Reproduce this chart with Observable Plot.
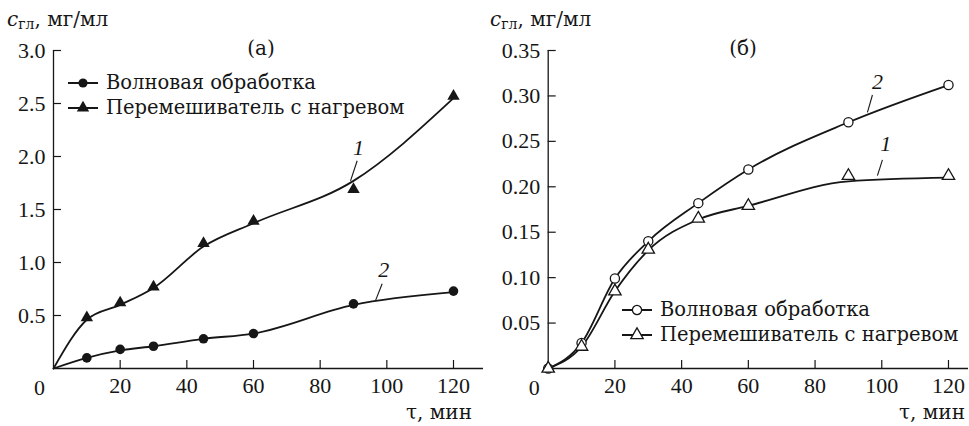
<!DOCTYPE html>
<html><head><meta charset="utf-8">
<script src="https://cdn.jsdelivr.net/npm/d3@7"></script>
<script src="https://cdn.jsdelivr.net/npm/@observablehq/plot@0.6"></script>
<style>
body{margin:0;background:#fff;color:#161616;}
#wrap{position:relative;width:969px;height:426px;overflow:hidden;background:#fff;}
.panel{position:absolute;top:0;}
.lab{position:absolute;line-height:20px;white-space:nowrap;font-size:20px;}
.leg{position:absolute;line-height:24px;white-space:nowrap;display:flex;align-items:center;height:24px;font-size:19.5px;}
.leg svg{display:block;margin-right:5px;}
sub{font-size:14px;vertical-align:-3px;line-height:0;}
</style></head><body>
<div id="wrap"></div>
<script>
// ---- data ----
const seriesNames = ["Волновая обработка", "Перемешиватель с нагревом"];
const panelTitles = ["(а)", "(б)"];
const xAxisLabel = "τ, мин";
const yAxisLabelHTML = "<i>c</i><sub>гл</sub>, мг/мл";
const xTicks = [20, 40, 60, 80, 100, 120];
const originLabel = ["0"];

// panel (а)
const leftTimes = [10, 20, 30, 45, 60, 90, 120];
const leftTriangle = [0.48, 0.62, 0.77, 1.18, 1.39, 1.69, 2.57];
const leftCircle = [0.10, 0.18, 0.21, 0.28, 0.33, 0.61, 0.73];
const leftCurveTimes = [0, 10, 20, 30, 45, 60, 90, 120];
const leftCurve1 = [0, 0.46, 0.60, 0.76, 1.15, 1.37, 1.77, 2.55];
const leftCurve2 = [0, 0.10, 0.17, 0.21, 0.28, 0.33, 0.60, 0.72];
const leftYTicks = [0.5, 1.0, 1.5, 2.0, 2.5, 3.0];
const leftCurveLabels = ["1", "2"];
const leftLabelX = [91.5, 99.1];
const leftLabelY = [2.08, 0.925];
const leftLeaderX1 = [91.1, 98.6], leftLeaderY1 = [1.96, 0.80];
const leftLeaderX2 = [89.1, 96.6], leftLeaderY2 = [1.77, 0.64];

// panel (б)
const rightTimes = [0, 10, 20, 30, 45, 60, 90, 120];
const rightCircle = [0, 0.028, 0.099, 0.140, 0.182, 0.219, 0.271, 0.312];
const rightTriangle = [0, 0.024, 0.085, 0.131, 0.165, 0.179, 0.212, 0.212];
const rightCurve1 = [0, 0.024, 0.085, 0.130, 0.164, 0.179, 0.206, 0.210];
const rightCurve2 = [0, 0.028, 0.099, 0.140, 0.182, 0.219, 0.271, 0.312];
const rightYTicks = [0.05, 0.10, 0.15, 0.20, 0.25, 0.30, 0.35];
const rightCurveLabels = ["2", "1"];
const rightLabelX = [98.7, 101.2];
const rightLabelY = [0.315, 0.247];
const rightLeaderX1 = [97.2, 100.2], rightLeaderY1 = [0.301, 0.2296];
const rightLeaderX2 = [95.7, 98.7], rightLeaderY2 = [0.282, 0.2123];

// ---- helpers ----
const ink = "#161616";
const NUMFONT = "'Liberation Serif', 'Times New Roman', serif";
const TXTFONT = "'DejaVu Serif', 'Liberation Serif', serif";
const setFont = (el, f) => el.style.setProperty("font-family", f, "important");
const pts = (xs, ys) => xs.map((x, i) => ({x, y: ys[i]}));
const labs = (t, xs, ys) => t.map((s, i) => ({text: s, x: xs[i], y: ys[i]}));
const links = (x1, y1, x2, y2) => x1.map((_, i) => ({x1: x1[i], y1: y1[i], x2: x2[i], y2: y2[i]}));

function panel({width, marginLeft, marginRight, xMax, yMax, yTicks, yFmt, curves, markers, labels, leaders}) {
  const svg = Plot.plot({
    width, height: 426,
    marginLeft, marginRight, marginTop: 50, marginBottom: 58,
    x: {domain: [0, xMax]},
    y: {domain: [0, yMax]},
    style: {fontFamily: NUMFONT, fontSize: "22px", color: ink, background: "transparent", overflow: "visible"},
    marks: [
      Plot.ruleX([0], {stroke: ink, strokeWidth: 1.3}),
      Plot.ruleY([0], {stroke: ink, strokeWidth: 1.3}),
      Plot.axisY(yTicks, {tickSize: -8, tickPadding: 16, tickFormat: yFmt, label: null, fontSize: 22, stroke: ink, strokeWidth: 1.2}),
      Plot.axisX(xTicks, {tickSize: -8, tickPadding: 17, label: null, fontSize: 22, stroke: ink, strokeWidth: 1.2}),
      Plot.text(originLabel, {x: 0, y: 0, text: d => d, dx: -14, dy: 19, fontSize: 22, fill: ink}),
      ...curves.map(c => Plot.line(c, {x: "x", y: "y", curve: "monotone-x", stroke: ink, strokeWidth: 1.8})),
      ...markers,
      Plot.link(leaders, {x1: "x1", y1: "y1", x2: "x2", y2: "y2", stroke: ink, strokeWidth: 1.1}),
      Plot.text(labels, {x: "x", y: "y", text: "text", fontSize: 22, fontStyle: "italic", fill: ink})
    ]
  });
  setFont(svg, NUMFONT);
  svg.querySelectorAll("g, text, tspan").forEach(el => setFont(el, NUMFONT));
  return svg;
}

const wrap = document.getElementById("wrap");

const left = panel({
  width: 485, marginLeft: 53, marginRight: 2, xMax: 129, yMax: 3.0,
  yTicks: leftYTicks, yFmt: d3.format(".1f"),
  curves: [pts(leftCurveTimes, leftCurve1), pts(leftCurveTimes, leftCurve2)],
  markers: [
    Plot.dot(pts(leftTimes, leftCircle), {x: "x", y: "y", symbol: "circle", r: 4.8, fill: ink}),
    Plot.dot(pts(leftTimes, leftTriangle), {x: "x", y: "y", symbol: "triangle", r: 4.6, fill: ink})
  ],
  labels: labs(leftCurveLabels, leftLabelX, leftLabelY),
  leaders: links(leftLeaderX1, leftLeaderY1, leftLeaderX2, leftLeaderY2)
});
left.classList.add("panel"); left.style.left = "0px";
wrap.appendChild(left);

const right = panel({
  width: 484, marginLeft: 62.7, marginRight: 1, xMax: 126, yMax: 0.35,
  yTicks: rightYTicks, yFmt: d3.format(".2f"),
  curves: [pts(rightTimes, rightCurve1), pts(rightTimes, rightCurve2)],
  markers: [
    Plot.dot(pts(rightTimes, rightCircle), {x: "x", y: "y", symbol: "circle", r: 4.6, fill: "white", stroke: ink, strokeWidth: 1.3}),
    Plot.dot(pts(rightTimes, rightTriangle), {x: "x", y: "y", symbol: "triangle", r: 4.6, fill: "white", stroke: ink, strokeWidth: 1.3})
  ],
  labels: labs(rightCurveLabels, rightLabelX, rightLabelY),
  leaders: links(rightLeaderX1, rightLeaderY1, rightLeaderX2, rightLeaderY2)
});
right.classList.add("panel"); right.style.left = "485px";
wrap.appendChild(right);

// ---- text overlays ----
function addText(html, css, font) {
  const d = document.createElement("div");
  d.className = "lab";
  d.innerHTML = html;
  Object.assign(d.style, css);
  setFont(d, font);
  d.querySelectorAll("*").forEach(el => setFont(el, font));
  wrap.appendChild(d);
  return d;
}
addText(yAxisLabelHTML, {left: "7px", top: "9px"}, TXTFONT);
addText(yAxisLabelHTML, {left: "490px", top: "9px"}, TXTFONT);
addText(panelTitles[0], {left: "261px", top: "38px", transform: "translateX(-50%)"}, TXTFONT);
addText(panelTitles[1], {left: "743px", top: "38px", transform: "translateX(-50%)"}, TXTFONT);
addText(xAxisLabel, {right: (969 - 472) + "px", top: "402px"}, TXTFONT);
addText(xAxisLabel, {right: (969 - 965) + "px", top: "402px"}, TXTFONT);

function legendRow(x, yc, name, symbol, filled) {
  const d = document.createElement("div");
  d.className = "leg";
  d.style.left = x + "px";
  d.style.top = (yc - 12) + "px";
  const s = d3.create("svg").attr("width", 34).attr("height", 24);
  s.append("line").attr("x1", 1).attr("x2", 31).attr("y1", 12).attr("y2", 12).attr("stroke", ink).attr("stroke-width", 2);
  const sym = d3.symbol(symbol === "circle" ? d3.symbolCircle : d3.symbolTriangle, Math.PI * 4.6 * 4.6)();
  s.append("path").attr("d", sym).attr("transform", "translate(16,12)")
    .attr("fill", filled ? ink : "white").attr("stroke", ink).attr("stroke-width", filled ? 0 : 1.3);
  d.appendChild(s.node());
  const t = document.createElement("span");
  t.textContent = name;
  d.appendChild(t);
  setFont(d, TXTFONT); setFont(t, TXTFONT);
  wrap.appendChild(d);
}
legendRow(67, 83, seriesNames[0], "circle", true);
legendRow(67, 108, seriesNames[1], "triangle", true);
legendRow(621, 310, seriesNames[0], "circle", false);
legendRow(621, 335, seriesNames[1], "triangle", false);
</script></body></html>
